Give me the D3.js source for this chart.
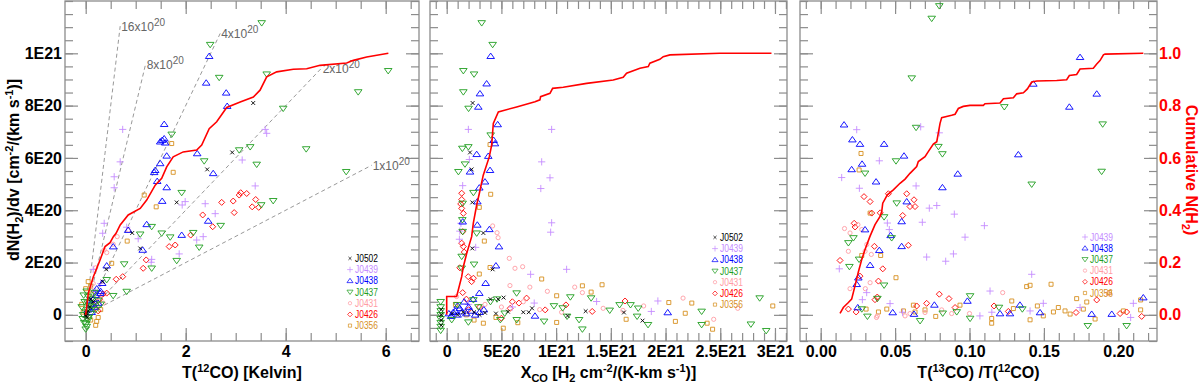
<!DOCTYPE html>
<html>
<head>
<meta charset="utf-8">
<script src="https://cdn.jsdelivr.net/npm/d3@7"></script>
<style>
  body { margin: 0; background: #fff; }
  svg text { font-family: "Liberation Sans", Arial, Helvetica, sans-serif; }
</style>
</head>
<body>
<svg id="chart" width="1200" height="384"></svg>
<script>
// ---- series ----
const seriesNames = ["J0502", "J0439", "J0438", "J0437", "J0431", "J0426", "J0356"];

// ---- panel 1 : T(12CO) [K] vs dN/dv [1E20] ----
const t12_J0502 = [[0,0],[0.02,0.05],[0.03,-0.1],[0.05,0.15],[0.08,0.3],[0.1,0.6],[0.15,0.5],[0.01,-0.05],[0.34,1.27],[0.41,1.74],[0.93,3.13],[1.09,2.54],[1.82,4.30],[2.43,5.56],[2.93,6.21],[3.35,8.10]];
const t12_J0439 = [[0.74,7.09],[0.69,5.85],[0.57,5.28],[0.57,4.86],[0.37,3.50],[0.34,3.12],[0.82,3.35],[1.05,2.91],[1.32,2.12],[1.31,2.01],[1.87,2.33],[2.22,2.86],[2.35,2.99],[2.39,4.25],[1.99,4.33],[1.93,4.2],[2.59,3.87],[3.13,5.92],[3.39,4.93],[3.59,7.09],[3.62,6.94],[0.15,1.74],[0.3,1.2],[0.2,0.9]];
const t12_J0438 = [[2.47,9.89],[2.41,8.87],[2.81,8.49],[2.83,7.98],[1.57,7.29],[1.53,6.68],[1.57,6.74],[1.49,6.62],[1.59,6.58],[1.62,6.08],[2.23,6.17],[2.55,5.41],[1.49,5.79],[1.39,5.53],[1.37,5.45],[1.43,5.11],[1.62,4.87],[1.53,4.35],[1.22,3.46],[1.92,3.05],[2.45,3.59],[1.14,2.48],[0.55,2.61],[0.85,3.24],[0.42,1.88],[0.33,1.21],[0.29,0.83],
  [0.05,0.2],[0.1,0.4],[0.15,0.6],[0.2,0.75],[0.25,0.45],[0.12,0.1],[0.08,0.55],[0.3,0.9],[0.18,0.3],[0.22,1.0]];
const t12_J0437 = [[2.49,10.33],[3.52,11.16],[2.67,9.07],[3.62,9.20],[6.05,9.33],[5.45,8.52],[3.95,7.89],[1.72,6.9],[2.37,5.88],[3.07,6.30],[3.29,6.42],[3.42,5.75],[4.41,6.34],[5.21,5.47],[1.92,4.67],[3.51,4.20],[3.75,4.36],[2.70,3.41],[2.15,3.14],[1.52,3.12],[1.09,3.08],[1.69,2.97],[1.32,3.37],[2.27,2.58],[1.82,2.07],[0.77,1.94],[1.32,1.78],[0.82,0.89],[0.55,0.73],[0.42,1.34],
  [0,-0.55],[0.02,-0.45],[-0.03,-0.3],[0.05,-0.2],[-0.05,0],[0.03,0.2],[0.08,0.35],[-0.02,0.5],[0.05,0.7],[0.12,0.6],[0.15,0.3],[0.1,0.05],[-0.08,0.3],[0.02,0.9],[0.18,0.85],[0.25,0.55],[0,0.1],[0.06,-0.1],[-0.04,0.75],[0.2,0.2],[0.3,0.4],[-0.06,-0.15],[0.01,-0.35],[0.04,0.45]];
const t12_J0431 = [[0.42,2.38],[0.55,2.7],[0.63,2.99],[0.85,3.24],[0.37,2.48],[0.2,1.8],[0.15,1.2],[0.1,1.0],[0.28,0.65],[0.35,0.45],[0.05,0.5],[0.2,0.3]];
const t12_J0426 = [[2.72,4.30],[2.95,4.35],[3.07,4.58],[3.1,4.67],[3.22,4.64],[3.4,4.41],[3.33,4.13],[3.46,4.11],[2.97,3.91],[2.34,3.82],[2.54,3.37],[2.1,3.05],[1.67,2.61],[1.79,2.67],[1.21,2.10],[1.15,1.78],[0.74,1.46],[0.61,1.36],[0.42,0.83],[0.2,0.4],[0.28,0.6],[0.35,0.8],[0.25,0.15]];
const t12_J0356 = [[1.72,6.55],[1.75,5.45],[1.17,4.58],[1.41,4.13],[0.83,2.82],[0.52,1.97],[0.05,1.27],[0.1,1.1],[-0.08,0.4],[-0.05,0.1],[0,1.0],[0.2,-0.4],[0.25,-0.1],[0.3,0.2],[0.12,0.8],[0.1,-0.2],[0.22,-0.25]];

// X factor guide lines (slope in 1E20 per K, end of the line in K)
const xcoSlopes = [16, 8, 4, 2, 1];
const xcoLineEnd = [0.69, 1.2, 2.69, 4.72, 5.72];

// cumulative N(H2) vs T(12CO)
const cum1_T = [0,0.053,0.153,0.287,0.387,0.487,0.553,0.607,0.69,0.85,1.09,1.22,1.39,1.52,1.62,1.75,1.95,2.22,2.32,2.47,2.62,2.82,3.09,3.353,3.487,3.62,3.82,4.153,4.42,4.687,5.22,5.353,5.62,6.053];
const cum1_F = [0,0.083,0.146,0.210,0.261,0.276,0.299,0.312,0.344,0.382,0.407,0.439,0.496,0.522,0.566,0.604,0.623,0.630,0.649,0.712,0.738,0.793,0.814,0.833,0.859,0.910,0.929,0.939,0.941,0.954,0.963,0.973,0.986,1.0];

// ---- panel 2 : X_CO [1E20] vs dN/dv [1E20] ----
const xco_J0502 = [[2.37,8.10],[2.13,6.21],[2.28,5.56],[2.34,4.30],[3.35,3.13],[2.34,2.54],[4.2,1.74],[4.0,0.6],[5.2,0.66],[4.7,0.6],[12.7,0.14],[16.2,0.09],[17.9,-0.22],[11.05,-0.04],[7.0,0.1],[7.5,0.1],[7.8,0.25],[5.6,0.12],[-0.5,0],[-0.5,-0.2],[-0.5,0.2],[-0.5,-0.4],[0.5,0.05],[1.5,0.1],[2.5,0.1],[3.5,0.08],[1.0,0.0],[3.0,0.0],[4.5,0.05]];
const xco_J0439 = [[1.98,7.09],[9.59,7.09],[8.68,5.85],[9.44,5.24],[8.6,4.83],[9.59,3.52],[9.5,3.16],[10.96,1.74],[7.67,1.55],[1.46,4.94],[1.16,2.89],[2.65,2.58],[13.7,0.51],[19.3,0.53],[18.7,0.13],[2.07,5.94],[1.3,3.5],[1.2,3.2],[6.0,0.3],[8.0,0.45],[2.0,0.4]];
const xco_J0438 = [[4.02,9.89],[3.65,8.84],[3.04,8.46],[2.89,7.95],[4.66,7.28],[4.29,6.68],[4.41,6.55],[3.8,6.07],[2.74,6.14],[3.96,5.53],[2.13,5.47],[3.5,5.09],[2.98,4.86],[2.8,4.33],[1.46,3.56],[2.8,3.44],[3.9,3.27],[4.78,2.61],[4.5,1.88],[3.56,1.21],[2.98,0.83],[20.2,0.09],[8.07,-0.04],
  [0.2,0.05],[0.6,0.1],[1.0,0.0],[1.4,0.12],[1.8,0.05],[2.2,0.15],[2.6,0.0],[3.0,0.1],[0.4,-0.05],[1.2,0.25],[2.0,0.3],[1.6,0.5],[2.4,0.6],[1.0,0.35],[0.8,0.15],[3.4,0.2]];
const xco_J0437 = [[3.2,11.16],[4.2,10.33],[1.52,9.33],[2.5,9.2],[1.52,8.52],[2.0,7.89],[4.02,6.87],[1.43,6.36],[1.98,6.42],[1.67,5.76],[1.07,5.47],[2.44,4.67],[1.46,4.26],[1.43,3.63],[1.46,3.18],[2.74,3.12],[1.37,2.23],[2.5,1.93],[1.37,1.78],[6.39,0.83],[13.2,0.64],[15.8,0.38],[16.8,0.38],[17.5,0.25],[17.4,-0.06],[28.6,0.64],[23.3,0.13],[23.3,-0.38],[27.8,-0.36],[29.2,-0.61],[18.4,-0.38],[12.4,-0.55],[12.1,-0.19],[8.9,-0.25],[6.4,-0.19],[4.9,-0.19],[1.98,-0.28],[9.8,0.34],[10.6,0.26],[11.3,0.68],[11.0,-0.06],[14.9,0.17],[0.46,-0.19],[0.97,0.38],[2.44,0.57],[2.9,0.3],[4.0,0.5],[4.6,0.6],[5.3,0.06],
  [-0.55,-0.6],[-0.55,-0.45],[-0.55,-0.3],[-0.55,-0.15],[-0.55,0.0],[-0.55,0.15],[-0.55,0.3],[-0.55,0.5]];
const xco_J0431 = [[4.2,3.4],[4.6,3.14],[4.7,2.95],[5.72,2.16],[6.24,1.78],[6.94,1.84],[5.78,1.12],[7.6,1.06],[11.7,1.06],[12.4,0.85],[14.3,0.25],[16.1,0.17],[18.0,0.34],[21.6,0.64],[24.4,-0.17],[26.6,0.25],[0.9,0.7],[3.5,0.4],[5.0,0.3],[9.2,0.9],[7.0,0.5],[10.5,0.1],[8.5,0.2]];
const xco_J0426 = [[1.37,4.65],[1.37,4.41],[1.28,4.24],[1.37,4.07],[1.52,3.88],[1.46,3.18],[1.37,2.74],[1.52,2.61],[1.97,1.46],[2.44,1.4],[2.28,1.27],[1.46,0.85],[1.8,0.6],[16.3,0.53],[13.3,0.13],[10.9,0.38],[9.0,0.19],[7.3,0.64],[6.6,0.45],[6.0,0.5],[5.8,0.25],[5.0,-0.13],[2.0,0.2],[3.0,0.3],[1.2,1.8],[1.6,2.4]];
const xco_J0356 = [[3.96,6.51],[4.02,4.61],[2.98,4.11],[3.44,2.82],[3.96,1.81],[2.98,1.56],[8.68,1.37],[12.4,1.11],[14.2,1.15],[10.05,0.73],[13.2,0.87],[20.3,0.47],[22.4,0.45],[29.8,0.34],[21.8,0.06],[20.9,-0.25],[23.8,-0.32],[24.3,-0.55],[16.4,-0.17],[10.05,-0.29],[5.17,-0.51],[3.35,-0.32],[0.8,0.4],[1.8,0.0],[2.5,-0.2],[6.5,-0.3],[4.5,-0.1]];

const cum2_X = [0,0,0.91,1.06,1.37,1.52,1.83,2.28,2.43,2.74,2.98,3.34,3.89,4.11,4.26,4.72,6.39,8.07,8.52,8.58,9.44,9.68,10.65,12.79,15.22,16.13,16.44,17.66,18.42,18.57,19.48,19.79,20.4,24.96,29.68];
const cum2_F = [0,0.07,0.07,0.095,0.146,0.184,0.235,0.299,0.350,0.420,0.464,0.534,0.604,0.649,0.732,0.776,0.795,0.815,0.822,0.834,0.847,0.866,0.870,0.885,0.898,0.908,0.924,0.943,0.949,0.962,0.977,0.987,0.994,1.0,1.0];

// ---- panel 3 : T(13CO)/T(12CO) vs dN/dv [1E20] ----
const rat_J0439 = [[0.0141,5.25],[0.0242,7.08],[0.0394,5.89],[0.0260,4.84],[0.0641,4.93],[0.0448,3.51],[0.0461,3.26],[0.0683,3.54],[0.073,4.08],[0.078,4.18],[0.0672,7.19],[0.0797,6.96],[0.0898,3.85],[0.110,3.41],[0.097,2.97],[0.0712,2.21],[0.0892,2.33],[0.084,2.05],[0.0125,1.76],[0.1418,1.55],[0.1138,0.91],[0.1496,0.44],[0.2101,0.44],[0.2083,-0.1],[0.107,-0.04],[0.0466,0.43],[0.0309,0.85],[0.1743,0.28],[0.1407,0.15],[0.028,0.58],[0.055,0.1],[0.115,0.1]];
const rat_J0438 = [[0.0157,7.27],[0.0213,6.70],[0.0264,6.53],[0.0426,6.53],[0.056,6.08],[0.0278,5.77],[0.0208,5.56],[0.0372,5.09],[0.0298,3.26],[0.0394,2.47],[0.0332,1.90],[0.0253,1.42],[0.0242,1.17],[0.047,3.04],[0.0544,3.57],[0.0578,4.33],[0.0544,2.62],[0.0818,4.87],[0.0921,5.39],[0.1328,6.13],[0.1743,9.85],[0.1429,8.83],[0.1855,8.45],[0.1671,7.95],[0.0986,0.53],[0.1339,0.38],[0.1205,0.05],[0.1272,0.05],[0.0484,0.09],[0.0249,0.28],[0.0627,0.03],[0.0764,0.38],[0.1474,0.09],[0.1821,0.03],[0.1956,0.03],[0.2168,0.66]];
const rat_J0437 = [[0.0797,11.81],[0.0746,11.33],[0.0612,9.05],[0.0641,7.16],[0.1234,7.95],[0.1895,7.29],[0.1888,5.48],[0.1418,4.99],[0.0791,6.43],[0.0818,6.15],[0.0506,5.88],[0.0511,4.27],[0.0426,3.74],[0.0298,5.41],[0.0220,2.94],[0.0186,2.75],[0.0193,1.84],[0.0258,2.12],[0.0477,2.94],[0.0426,1.13],[0.0381,0.62],[0.1004,0.72],[0.1198,0.28],[0.0914,0.11],[0.082,0.06],[0.1004,-0.14],[0.0668,-0.23],[0.0314,-0.06],[0.0276,0.22],[0.1355,0.22],[0.1795,-0.42],[0.2056,-0.42]];
const rat_J0431 = [[0.0186,2.43],[0.0197,3.13],[0.031,2.69],[0.034,2.31],[0.0298,2.43],[0.0197,1.00],[0.0332,1.23],[0.038,-0.04],[0.0567,-0.04],[0.0701,0.09],[0.0813,0.19],[0.1223,0.85],[0.1933,0.81],[0.0276,3.26],[0.016,3.3],[0.025,3.45],[0.03,1.0],[0.0375,-0.1],[0.06,0.05],[0.088,0.05],[0.1,0.05]];
const rat_J0426 = [[0.013,2.08],[0.0186,0.22],[0.0238,0.11],[0.0231,3.36],[0.0291,4.52],[0.0332,4.33],[0.0343,3.89],[0.0455,4.63],[0.0551,3.80],[0.0578,4.63],[0.0600,4.14],[0.0634,4.14],[0.0627,4.40],[0.0361,2.62],[0.0388,1.29],[0.0417,1.76],[0.0264,1.48],[0.0589,2.66],[0.038,0.68],[0.0645,0.34],[0.0712,0.44],[0.0797,0.79],[0.0862,0.62],[0.0903,0.28],[0.1165,0.34],[0.1261,0.13],[0.1716,0.09],[0.1855,0.57],[0.2012,0.05],[0.2056,0.11],[0.2157,-0.06],[0.0225,3.5],[0.04,3.9],[0.0365,0.58]];
const rat_J0356 = [[0.0271,6.17],[0.0258,5.54],[0.0332,3.89],[0.0276,2.27],[0.0403,2.27],[0.0506,1.42],[0.1384,1.08],[0.1407,1.13],[0.1548,1.17],[0.172,0.62],[0.1788,0.49],[0.194,0.85],[0.215,0.57],[0.215,0.19],
  [0.0305,0.22],[0.0388,0.11],[0.0444,0.22],[0.0556,0.15],[0.0623,0.37],[0.0634,0.11],[0.0701,0.19],[0.0773,-0.06],[0.0936,0.37],[0.1284,0.53],[0.1295,0.24],[0.1407,-0.19],[0.1456,0.34],[0.1496,-0.04],[0.1564,0.11],[0.1597,0.28],[0.1642,0.15],[0.1676,0.03],[0.1149,-0.14],[0.1149,-0.32],[0.1765,0.22],[0.1844,-0.16],[0.2034,0.15]];

const cum3_R = [0.013,0.0152,0.0186,0.0208,0.023,0.0253,0.0276,0.0298,0.0331,0.0365,0.0399,0.041,0.0417,0.0448,0.0488,0.0533,0.0567,0.06,0.0645,0.0656,0.0701,0.0723,0.0757,0.078,0.079,0.0802,0.0813,0.088,0.0903,0.0925,0.0958,0.1003,0.1093,0.1104,0.1205,0.1228,0.1295,0.1317,0.1362,0.1389,0.1418,0.1452,0.1586,0.1653,0.1671,0.172,0.1743,0.1832,0.1855,0.1877,0.19,0.1911,0.2168];
const cum3_F = [0.006,0.028,0.047,0.060,0.110,0.164,0.212,0.250,0.300,0.345,0.376,0.395,0.427,0.459,0.478,0.503,0.519,0.541,0.567,0.586,0.605,0.624,0.653,0.662,0.694,0.732,0.754,0.763,0.767,0.789,0.797,0.801,0.801,0.807,0.81,0.826,0.830,0.845,0.849,0.864,0.890,0.894,0.896,0.899,0.915,0.919,0.940,0.943,0.959,0.972,0.994,0.997,1.0];

// ---- ticks ----
const yMajor = [0, 2, 4, 6, 8, 10];
const yLabels = ["0", "2E20", "4E20", "6E20", "8E20", "1E21"];
const fracMajor = [0, 0.2, 0.4, 0.6, 0.8, 1.0];
const fracLabels = ["0.0", "0.2", "0.4", "0.6", "0.8", "1.0"];
const x1Major = [0, 2, 4, 6];
const x1Labels = ["0", "2", "4", "6"];
const x2Major = [0, 5, 10, 15, 20, 25, 30];
const x2Labels = ["0", "5E20", "1E21", "1.5E21", "2E21", "2.5E21", "3E21"];
const x3Major = [0, 0.05, 0.10, 0.15, 0.20];
const x3Labels = ["0.00", "0.05", "0.10", "0.15", "0.20"];

// ---- styles ----
const colours = {
  J0502: "#000000", J0439: "#c58cff", J0438: "#0000ff", J0437: "#1f9e1f",
  J0431: "#ff9ca4", J0426: "#ff0000", J0356: "#d7901f"
};
const shapes = {
  J0502: "x", J0439: "plus", J0438: "tri", J0437: "itri",
  J0431: "circle", J0426: "diamond", J0356: "square"
};
const frameGrey = "#8c8c8c";

function symbolPath(type) {
  switch (type) {
    case "x": return "M-1.9,-1.9L1.9,1.9M-1.9,1.9L1.9,-1.9";
    case "plus": return "M-3.6,0H3.6M0,-3.6V3.6";
    case "tri": return "M0,-3.1L3.8,2.3L-3.8,2.3Z";
    case "itri": return "M0,3.1L3.8,-2.3L-3.8,-2.3Z";
    case "circle": return "M2.1,0A2.1,2.1 0 1,1 -2.1,0A2.1,2.1 0 1,1 2.1,0";
    case "diamond": return "M0,-3L3,0L0,3L-3,0Z";
    default: return "M-2,-2H2V2H-2Z";
  }
}

const svg = d3.select("#chart");
const plotTop = 1, plotBottom = 341;
const yScale = d3.scaleLinear().domain([-1, 12]).range([plotBottom, plotTop]);
const fracScale = d3.scaleLinear().domain([-0.1, 1.2]).range([plotBottom, plotTop]);

function minorValues(domain, step) {
  const lo = Math.ceil(domain[0] / step - 1e-9), hi = Math.floor(domain[1] / step + 1e-9);
  return d3.range(lo, hi + 1).map(i => +(i * step).toFixed(6));
}

function styleAxis(g) {
  g.select(".domain").remove();
  g.selectAll(".tick line").attr("stroke", frameGrey).attr("stroke-width", 1.2);
  g.selectAll(".tick text")
    .attr("font-family", "'Liberation Sans', Arial, sans-serif")
    .attr("font-weight", "bold").attr("font-size", 16).attr("fill", "#000");
}

function drawPanel(cfg) {
  const g = svg.append("g");
  const x = d3.scaleLinear().domain(cfg.xDomain).range([cfg.x0, cfg.x1]);
  const xMinor = minorValues(cfg.xDomain, cfg.xStep);
  const yMinor = minorValues([-1, 12], 0.5);

  // minor ticks
  g.append("g").attr("transform", `translate(0,${plotBottom})`)
    .call(d3.axisBottom(x).tickValues(xMinor).tickSize(-8).tickFormat("")).call(styleAxis);
  g.append("g").attr("transform", `translate(0,${plotTop})`)
    .call(d3.axisTop(x).tickValues(xMinor).tickSize(-8).tickFormat("")).call(styleAxis);
  g.append("g").attr("transform", `translate(${cfg.x0},0)`)
    .call(d3.axisLeft(yScale).tickValues(yMinor).tickSize(-8).tickFormat("")).call(styleAxis);
  g.append("g").attr("transform", `translate(${cfg.x1},0)`)
    .call(d3.axisRight(yScale).tickValues(yMinor).tickSize(-8).tickFormat("")).call(styleAxis);

  // major ticks
  g.append("g").attr("transform", `translate(0,${plotBottom})`)
    .call(d3.axisBottom(x).tickValues(cfg.xMajor).tickSize(-13).tickPadding(5)
      .tickFormat((d, i) => cfg.xLabels[i])).call(styleAxis);
  g.append("g").attr("transform", `translate(0,${plotTop})`)
    .call(d3.axisTop(x).tickValues(cfg.xMajor).tickSize(-13).tickFormat("")).call(styleAxis);
  g.append("g").attr("transform", `translate(${cfg.x0},0)`)
    .call(d3.axisLeft(yScale).tickValues(yMajor).tickSize(-13).tickPadding(3)
      .tickFormat((d, i) => cfg.leftLabels ? yLabels[i] : "")).call(styleAxis);
  const right = g.append("g").attr("transform", `translate(${cfg.x1},0)`);
  if (cfg.rightLabels) {
    right.call(d3.axisRight(fracScale).tickValues(fracMajor).tickSize(-13).tickPadding(2)
      .tickFormat((d, i) => fracLabels[i])).call(styleAxis);
    right.selectAll(".tick text").attr("fill", "#ff0000");
  } else {
    right.call(d3.axisRight(yScale).tickValues(yMajor).tickSize(-13).tickFormat("")).call(styleAxis);
  }

  // frame
  g.append("rect")
    .attr("x", cfg.x0).attr("y", plotTop)
    .attr("width", cfg.x1 - cfg.x0).attr("height", plotBottom - plotTop)
    .attr("fill", "none").attr("stroke", frameGrey).attr("stroke-width", 1.3);

  const plot = g.append("g");
  if (cfg.extra) cfg.extra(plot, x);

  // points, drawn back to front
  const order = ["J0356", "J0426", "J0431", "J0439", "J0438", "J0437", "J0502"];
  order.forEach(name => {
    const pts = cfg.data[name];
    if (!pts) return;
    plot.append("g").selectAll("path")
      .data(pts)
      .join("path")
      .attr("d", symbolPath(shapes[name]))
      .attr("transform", d => `translate(${x(d[0])},${yScale(d[1])})`)
      .attr("fill", "none")
      .attr("stroke", colours[name])
      .attr("stroke-width", 0.9);
  });

  // cumulative N(H2)
  const line = d3.line().x(d => x(d[0])).y(d => fracScale(d[1]));
  plot.append("path")
    .datum(cfg.cumX.map((v, i) => [v, cfg.cumF[i]]))
    .attr("d", line)
    .attr("fill", "none").attr("stroke", "#ff0000").attr("stroke-width", 1.6);

  // legend (rows tight, like the original)
  const names = seriesNames.filter(n => cfg.data[n]);
  const rowH = 11.2;
  const y0 = cfg.legMid - (names.length - 1) * rowH / 2;
  const leg = g.append("g");
  names.forEach((n, i) => {
    const cy = y0 + i * rowH;
    leg.append("path").attr("d", symbolPath(shapes[n]))
      .attr("transform", `translate(${cfg.legX},${cy}) scale(0.8)`)
      .attr("fill", "none").attr("stroke", colours[n]).attr("stroke-width", 0.9);
    leg.append("text").attr("x", cfg.legX + 5).attr("y", cy + 3.6)
      .attr("font-size", 10).attr("fill", colours[n])
      .attr("textLength", 23).attr("lengthAdjust", "spacingAndGlyphs")
      .text(n);
  });

  // x title
  const t = g.append("text")
    .attr("x", (cfg.x0 + cfg.x1) / 2).attr("y", 378)
    .attr("text-anchor", "middle").attr("font-weight", "bold").attr("font-size", 16);
  cfg.title(t);
  return x;
}

function part(t, s, shift) {
  const sp = t.append("tspan").text(s);
  if (shift === "sup") sp.attr("font-size", 11).attr("baseline-shift", "6");
  if (shift === "sub") sp.attr("font-size", 11).attr("baseline-shift", "-4");
  return sp;
}

// panel 1
drawPanel({
  x0: 65, x1: 419, xDomain: [-0.414, 6.666], xStep: 0.5,
  xMajor: x1Major, xLabels: x1Labels, leftLabels: true,
  data: { J0502: t12_J0502, J0439: t12_J0439, J0438: t12_J0438, J0437: t12_J0437,
          J0431: t12_J0431, J0426: t12_J0426, J0356: t12_J0356 },
  cumX: cum1_T, cumF: cum1_F,
  legX: 350, legMid: 292,
  extra: (plot, x) => {
    xcoSlopes.forEach((s, i) => {
      const tEnd = xcoLineEnd[i];
      plot.append("line")
        .attr("x1", x(0)).attr("y1", yScale(0))
        .attr("x2", x(tEnd)).attr("y2", yScale(s * tEnd))
        .attr("stroke", "#999").attr("stroke-width", 1).attr("stroke-dasharray", "4,3");
      const lab = plot.append("text")
        .attr("x", x(tEnd) + 1).attr("y", yScale(s * tEnd) + 5)
        .attr("font-size", 12).attr("fill", "#666");
      lab.append("tspan").text(s + "x10");
      lab.append("tspan").text("20").attr("font-size", 10).attr("baseline-shift", "5");
    });
  },
  title: t => { part(t, "T("); part(t, "12", "sup"); part(t, "CO) [Kelvin]"); }
});

// panel 2
drawPanel({
  x0: 430, x1: 787, xDomain: [-1.526, 31.1], xStep: 1,
  xMajor: x2Major, xLabels: x2Labels, leftLabels: false,
  data: { J0502: xco_J0502, J0439: xco_J0439, J0438: xco_J0438, J0437: xco_J0437,
          J0431: xco_J0431, J0426: xco_J0426, J0356: xco_J0356 },
  cumX: cum2_X, cumF: cum2_F,
  legX: 715, legMid: 271,
  title: t => {
    part(t, "X"); part(t, "CO", "sub"); part(t, " [H"); part(t, "2", "sub");
    part(t, " cm"); part(t, "-2", "sup"); part(t, "/(K-km s"); part(t, "-1", "sup"); part(t, ")]");
  }
});

// panel 3
drawPanel({
  x0: 800, x1: 1157, xDomain: [-0.01391, 0.2260], xStep: 0.01,
  xMajor: x3Major, xLabels: x3Labels, leftLabels: false, rightLabels: true,
  data: { J0439: rat_J0439, J0438: rat_J0438, J0437: rat_J0437,
          J0431: rat_J0431, J0426: rat_J0426, J0356: rat_J0356 },
  cumX: cum3_R, cumF: cum3_F,
  legX: 1085, legMid: 265,
  title: t => { part(t, "T("); part(t, "13", "sup"); part(t, "CO) /T("); part(t, "12", "sup"); part(t, "CO)"); }
});

// y titles
const yt = svg.append("text")
  .attr("transform", "translate(19,170) rotate(-90)")
  .attr("text-anchor", "middle").attr("font-weight", "bold").attr("font-size", 16);
part(yt, "dN(H"); part(yt, "2", "sub"); part(yt, ")/dv [cm"); part(yt, "-2", "sup");
part(yt, "/(km s"); part(yt, "-1", "sup"); part(yt, ")]");

const rt = svg.append("text")
  .attr("transform", "translate(1186,170) rotate(90)")
  .attr("text-anchor", "middle").attr("font-weight", "bold").attr("font-size", 16)
  .attr("fill", "#ff0000");
part(rt, "Cumulative N(H"); part(rt, "2", "sub"); part(rt, ")");
</script>
</body>
</html>
